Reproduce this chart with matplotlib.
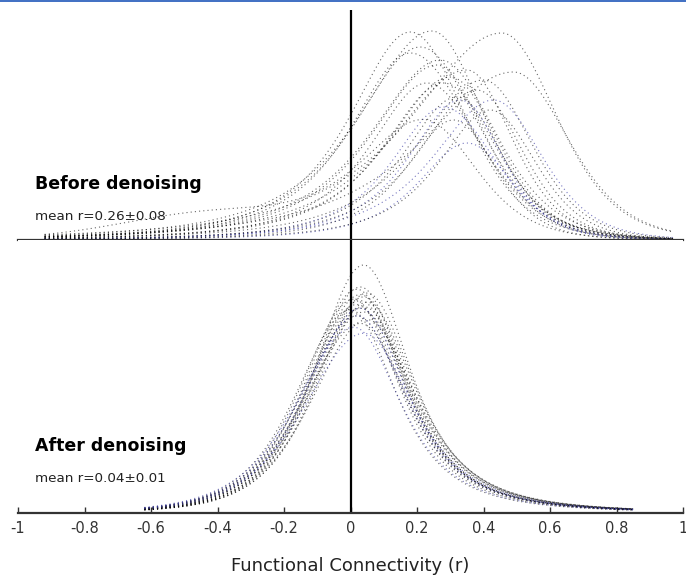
import numpy as np
import matplotlib
matplotlib.use("Agg")
from matplotlib import pyplot as plt
from matplotlib.patches import Rectangle

# x ticks shared by both panels
tick_pos = [-1, -0.8, -0.6, -0.4, -0.2, 0, 0.2, 0.4, 0.6, 0.8, 1]
tick_labels = ['-1', '-0.8', '-0.6', '-0.4', '-0.2', '0', '0.2', '0.4', '0.6', '0.8', '1']

# Before denoising: one distribution per subject (peak r, peak density, left/right spread)
before_peak = [0.18, 0.245, 0.455, 0.49, 0.35, 0.21, 0.26, 0.28, 0.32, 0.33, 0.35,
               0.23, 0.40, 0.18, 0.30, 0.43, 0.28, 0.38, 0.27, 0.42, 0.22, 0.31]
before_height = [2.08, 2.09, 2.07, 1.68, 1.70, 1.93, 1.75, 1.57, 1.43, 1.40, 0.97,
                 1.57, 1.60, 1.87, 1.63, 1.40, 1.33, 1.50, 1.80, 1.30, 1.20, 1.20]
before_left = [0.20, 0.24, 0.30, 0.30, 0.25, 0.22, 0.22, 0.20, 0.18, 0.17, 0.16,
               0.19, 0.22, 0.20, 0.21, 0.20, 0.17, 0.19, 0.23, 0.17, 0.22, 0.16]
before_right = [0.17, 0.16, 0.17, 0.17, 0.14, 0.18, 0.15, 0.16, 0.14, 0.13, 0.14,
                0.17, 0.15, 0.19, 0.15, 0.15, 0.16, 0.14, 0.17, 0.14, 0.16, 0.13]
before_blue = [0, 0, 0, 0, 0, 0, 0, 0, 0, 1, 1, 0, 0, 0, 0, 1, 1, 0, 0, 0, 0, 0]
# one subject has a second hump of negative correlations
before_hump_pos = -0.45
before_hump_height = 0.2
before_hump_sd = 0.25
before_hump_subject = 20

# After denoising
after_peak = [0.04, 0.03, 0.02, 0.05, 0.03, 0.04, 0.01, 0.03, 0.05, 0.02, 0.04,
              0.03, 0.00, 0.04, 0.02, 0.05, 0.03, 0.01, 0.04, 0.02, 0.03]
after_height = [3.27, 2.98, 2.95, 2.90, 2.88, 2.85, 2.82, 2.80, 2.78, 2.75, 2.72,
                2.70, 2.68, 2.65, 2.60, 2.55, 2.50, 2.45, 2.37, 2.60, 2.70]
after_left = [0.150, 0.155, 0.160, 0.158, 0.162, 0.160, 0.165, 0.163, 0.160, 0.168, 0.165,
              0.170, 0.168, 0.172, 0.175, 0.170, 0.178, 0.180, 0.185, 0.175, 0.168]
after_right = [0.150, 0.150, 0.152, 0.155, 0.150, 0.156, 0.150, 0.155, 0.158, 0.152, 0.160,
               0.155, 0.150, 0.160, 0.158, 0.165, 0.160, 0.155, 0.165, 0.160, 0.155]
after_blue = [0, 0, 0, 0, 0, 0, 0, 0, 0, 0, 0, 0, 0, 0, 0, 0, 0, 1, 1, 1, 1]


def density(x, peak, height, left, right, nu_left, nu_right):
    # peaked curve with student-t like flanks, separate spread on each side
    d = x - peak
    s = np.where(d < 0, left, right)
    nu = np.where(d < 0, nu_left, nu_right)
    z = d / s
    return height * (1 + z ** 2 / nu) ** (-(nu + 1) / 2.0)


black = (0, 0, 0, 0.6)
blue = (0.25, 0.25, 0.65, 0.7)
dots = (0, (1, 2.8))

fig = plt.figure(figsize=(6.86, 5.82), dpi=100)
ax1 = fig.add_axes([18 / 686., 1 - 240 / 582., 665 / 686., 230 / 582.])
ax2 = fig.add_axes([18 / 686., 1 - 513 / 582., 665 / 686., 273 / 582.])

# top panel
xb = np.linspace(-0.92, 0.97, 600)
for i in range(len(before_peak)):
    y = density(xb, before_peak[i], before_height[i], before_left[i], before_right[i], 2.0, 6.0)
    if i == before_hump_subject:
        y = y + before_hump_height * np.exp(-0.5 * ((xb - before_hump_pos) / before_hump_sd) ** 2)
    ax1.plot(xb, y, linestyle=dots, lw=0.8, color=blue if before_blue[i] else black)

# bottom panel
xa = np.linspace(-0.62, 0.85, 600)
for i in range(len(after_peak)):
    y = density(xa, after_peak[i], after_height[i], after_left[i], after_right[i], 4.0, 2.0)
    ax2.plot(xa, y, linestyle=dots, lw=0.8, color=blue if after_blue[i] else black)

for ax in (ax1, ax2):
    ax.set_xlim(-1, 1)
    for side in ('top', 'left', 'right'):
        ax.spines[side].set_visible(False)
    ax.spines['bottom'].set_linewidth(1.6)
    ax.spines['bottom'].set_color('#333333')
    ax.axvline(0, color='black', lw=1.6)
    ax.set_yticks([])

ax1.set_ylim(0, 2.3)
ax2.set_ylim(0, 3.6)
ax1.set_xticks([])

ax2.set_xticks(tick_pos)
ax2.set_xticklabels(tick_labels)
ax2.tick_params(axis='x', direction='in', length=4, width=1, colors='#333333',
                labelsize=10.5, pad=6)
ax2.set_xlabel('Functional Connectivity (r)', fontsize=13, color='#222222', labelpad=15)

ax1.text(-0.949, 0.56, 'Before denoising', fontsize=12.5, fontweight='bold', va='center', ha='left')
ax1.text(-0.949, 0.23, 'mean r=0.26\u00b10.08', fontsize=9.7, va='center', ha='left', color='#222222')
ax2.text(-0.949, 0.88, 'After denoising', fontsize=12.5, fontweight='bold', va='center', ha='left')
ax2.text(-0.949, 0.46, 'mean r=0.04\u00b10.01', fontsize=9.7, va='center', ha='left', color='#222222')

# blue rule along the top edge
fig.add_artist(Rectangle((0, 1 - 2 / 582.), 1, 2 / 582., transform=fig.transFigure,
                         color='#4472c4', lw=0))

fig.savefig('out.png', dpi=100)
